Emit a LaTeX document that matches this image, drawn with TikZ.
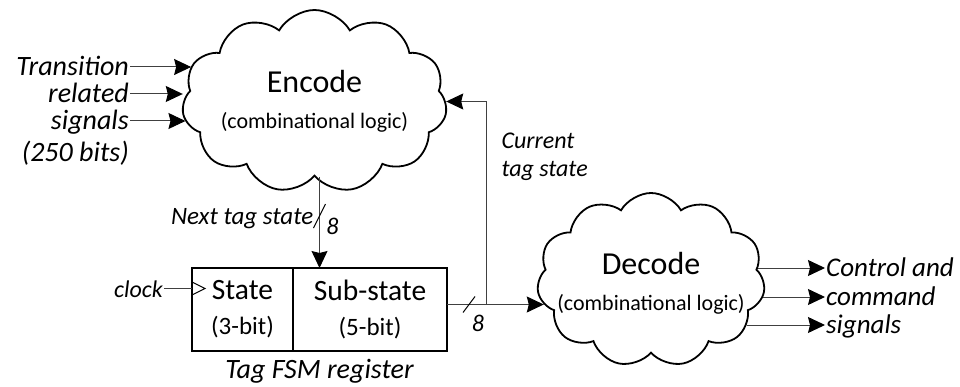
\documentclass[tikz,border=0pt]{standalone}
\usepackage{fontspec}
\setmainfont{Carlito}
\usetikzlibrary{arrows.meta, calc, positioning, shapes.symbols}

\tikzset{
  logic/.style={cloud, draw, line width=1.8pt, cloud puffs=11, cloud puff arc=120,
    cloud ignores aspect, inner sep=0pt},
  logictext/.style={align=center, inner sep=0pt, font=\fontsize{32}{40}\selectfont},
  regbox/.style={draw, line width=2.2pt, outer sep=0pt, inner sep=0pt,
    minimum height=83pt, align=center, font=\fontsize{29.5}{35}\selectfont},
  lbl/.style={font=\fontsize{#1}{#1}\selectfont\itshape, text height=17pt,
    text depth=0pt, inner sep=1pt},
  lbl/.default=28,
  sig/.style={line width=1pt, draw=black!75,
    -{Stealth[length=17pt, width=16pt, inset=2pt, color=black]}},
  wire/.style={line width=1pt, draw=black!75},
}

\begin{document}
\begin{tikzpicture}[x=1pt, y=-1pt]
  \useasboundingbox (0,0) rectangle (960,387);
  % clouds
  \node[logic, minimum width=265pt, minimum height=183pt,
    label={[logictext]center:{Encode\\[-4pt]{\fontsize{22}{26}\selectfont (combinational logic)}}}]
    (enc) at (314.5,101.5) {};
  \node[logic, minimum width=228pt, minimum height=174pt,
    label={[logictext, yshift=-3pt]center:{Decode\\[-4pt]{\fontsize{22}{26}\selectfont (combinational logic)}}}]
    (dec) at (651,280) {};
  % register
  \node[regbox, minimum width=101pt] (state) at (242.5,309.5)
    {State\\{\fontsize{25}{30}\selectfont (3-bit)}};
  \node[regbox, minimum width=154pt, right=0pt of state] (sub)
    {Sub-state\\{\fontsize{25}{30}\selectfont (5-bit)}};
  \coordinate (regtop) at ($(state.north west)!0.5!(sub.north east)$);
  \coordinate (regbot) at ($(state.south west)!0.5!(sub.south east)$);
  \node[lbl, below=9pt of regbot] (regname) {Tag FSM register};
  % clock
  \coordinate (clk) at ([yshift=21pt]state.west);
  \node[lbl=24, left=28pt of clk] (clock) {clock};
  \draw[wire] (clock.east) -- (clk);
  \draw[line width=1pt] ([yshift=6.5pt]clk) -- ([xshift=13pt]clk) -- ([yshift=-6.5pt]clk);
  % inputs
  \node[lbl, anchor=east] (in1) at (130,67) {Transition};
  \node[lbl, anchor=east] (in2) at (130,94) {related};
  \node[lbl, anchor=east] (in3) at (130,121) {signals};
  \node[lbl, anchor=east] (in4) at (130,153) {(250 bits)};
  \foreach \i/\a in {1/164, 2/180, 3/189}
    \draw[sig] (in\i.east) -- (in\i.east -| enc.\a);
  % next state
  \draw[sig] (enc.south -| regtop) -- (regtop) coordinate[pos=0.43] (bus1);
  \draw[line width=1pt] ([xshift=-6pt,yshift=-12pt]bus1) -- ([xshift=6pt,yshift=12pt]bus1);
  \node[lbl=24] (w1) at ([xshift=13pt,yshift=-10pt]bus1) {8};
  \node[lbl=25, left=5pt of bus1] (nts) {Next tag state};
  % current state
  \coordinate (regout) at ([yshift=5pt]sub.east);
  \draw[sig] (regout) -- (regout -| dec.193);
  \path (regout) -- ++(22,0) coordinate (bus2) -- ++(17,0) coordinate (tap);
  \draw[line width=1pt] ([xshift=-6pt,yshift=-8pt]bus2) -- ([xshift=6pt,yshift=8pt]bus2);
  \node[lbl=24] (w2) at ([xshift=9pt,yshift=-18pt]bus2) {8};
  \draw[sig] (tap) |- (enc.east);
  \node[font=\fontsize{24}{28}\selectfont\itshape, align=left, anchor=west] (cur)
    at (498,157) {Current\\tag state};
  % outputs
  \node[lbl=27, anchor=west] (out1) at (825,268) {Control and};
  \node[lbl=27, anchor=west] (out2) at (825,297) {command};
  \node[lbl=27, anchor=west] (out3) at (825,325) {signals};
  \foreach \i/\a in {1/6, 2/-9, 3/-25}
    \draw[sig] (dec.\a |- out\i.west) -- (out\i.west);
\end{tikzpicture}
\end{document}
